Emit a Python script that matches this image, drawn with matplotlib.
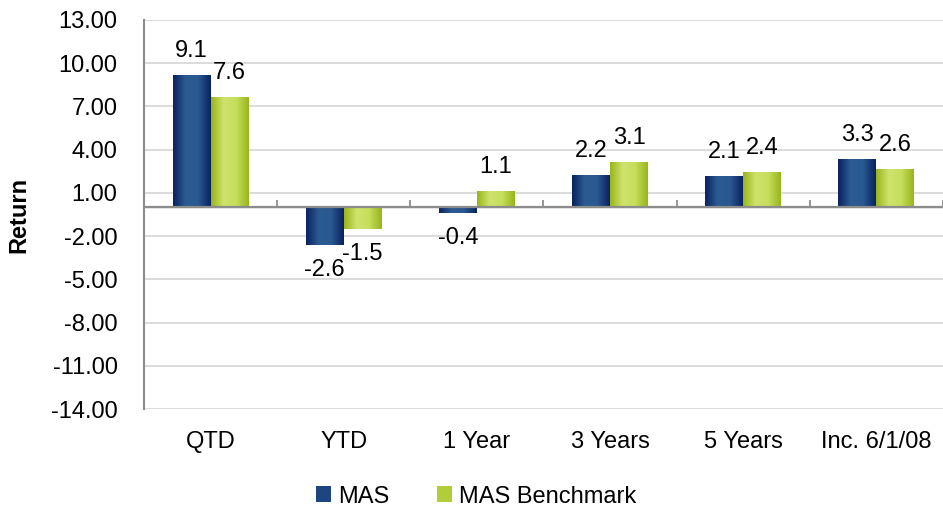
import numpy as np
import matplotlib
matplotlib.use('Agg')
import matplotlib.pyplot as plt
from matplotlib.colors import LinearSegmentedColormap
from matplotlib.patches import Patch

plt.rcParams['font.family'] = ['Liberation Sans', 'DejaVu Sans']

categories = ['QTD', 'YTD', '1 Year', '3 Years', '5 Years', 'Inc. 6/1/08']
mas = [9.1, -2.6, -0.4, 2.2, 2.1, 3.3]
benchmark = [7.6, -1.5, 1.1, 3.1, 2.4, 2.6]
series_names = ['MAS', 'MAS Benchmark']
y_ticks = [13, 10, 7, 4, 1, -2, -5, -8, -11, -14]

# horizontal shading across each bar: dark edges, lighter middle
navy = LinearSegmentedColormap.from_list('navy', ['#0a2360', '#2c5b92', '#2a5890', '#0a2360'])
lime = LinearSegmentedColormap.from_list('lime', ['#98b61c', '#cfe36c', '#c6de5c', '#98b61c'])
grad = np.linspace(0, 1, 64).reshape(1, -1)

fig = plt.figure(figsize=(9.43, 5.11), dpi=100)
ax = fig.add_axes([0.1527, 0.1996, 0.8473, 0.7613])

x = np.arange(len(categories))
width = 0.285
ymin, ymax = -14, 13

bars_a = ax.bar(x - width / 2, mas, width, color='none', linewidth=0, zorder=3)
bars_b = ax.bar(x + width / 2, benchmark, width, color='none', linewidth=0, zorder=3)

for bars, cmap in ((bars_a, navy), (bars_b, lime)):
    for p in bars.patches:
        x0, y0 = p.get_x(), p.get_y()
        ax.imshow(grad, cmap=cmap, aspect='auto', zorder=3,
                  extent=(x0, x0 + p.get_width(), y0, y0 + p.get_height()))

# value labels: above positive bars, below negative ones
for bars, vals in ((bars_a, mas), (bars_b, benchmark)):
    for p, v in zip(bars.patches, vals):
        cx = p.get_x() + p.get_width() / 2
        if v >= 0:
            ax.annotate(f'{v:.1f}', (cx, v), xytext=(0, 10), textcoords='offset points',
                        ha='center', va='bottom', fontsize=17, zorder=5)
        else:
            ax.annotate(f'{v:.1f}', (cx, v), xytext=(0, -10), textcoords='offset points',
                        ha='center', va='top', fontsize=17, zorder=5)

ax.set_xlim(-0.5, len(categories) - 0.5)
ax.set_ylim(ymin, ymax)
ax.set_yticks(y_ticks)
ax.set_yticklabels([f'{t:.2f}' for t in y_ticks], fontsize=17)
ax.tick_params(axis='y', length=0, pad=19)
ax.set_xticks(x)
ax.set_xticklabels(categories, fontsize=17)
ax.tick_params(axis='x', length=0, pad=16)
ax.yaxis.grid(True, color='#d9d9d9', linewidth=1.3, zorder=0)
ax.set_axisbelow(True)

for side in ('top', 'right', 'bottom'):
    ax.spines[side].set_visible(False)
ax.spines['left'].set_color('#8c8c8c')
ax.spines['left'].set_linewidth(1.5)

# zero line with category separator ticks
ax.axhline(0, color='#8c8c8c', linewidth=1.6, zorder=4)
zero_axis = ax.secondary_xaxis((0 - ymin) / (ymax - ymin))
zero_axis.spines['bottom'].set_visible(False)
zero_axis.set_xticks(np.arange(len(categories) + 1) - 0.5)
zero_axis.set_xticklabels([])
zero_axis.tick_params(axis='x', length=5, width=1.3, color='#8c8c8c', direction='out')

ax.set_ylabel('Return', fontsize=17, fontweight='bold')
ax.yaxis.set_label_coords(-0.142, 0.5)

handles = [Patch(facecolor='#1d4680', edgecolor='none'),
           Patch(facecolor='#b2cd3a', edgecolor='none')]
fig.legend(handles, series_names, loc='lower center', bbox_to_anchor=(0.505, -0.035),
           ncol=2, frameon=False, fontsize=17, handlelength=0.65, handleheight=0.65,
           handletextpad=0.3, columnspacing=2.0)

fig.savefig('out.png', dpi=100)
